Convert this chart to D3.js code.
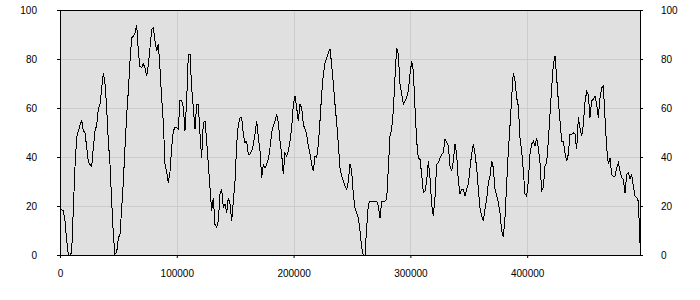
<!DOCTYPE html>
<html>
<head>
<meta charset="utf-8">
<script src="https://cdn.jsdelivr.net/npm/d3@7"></script>
<style>
  body { margin: 0; background: #fff; }
  svg { display: block; font-family: "DejaVu Sans", sans-serif; }
</style>
</head>
<body>
<div id="chart"></div>
<script>
// samples are evenly spaced along x
const xStep = 1427;
const xMax = 496600;
const values = [
  18.6, 18.6, 18, 14, 6, 0, 0, 1, 19, 36, 48, 50.6, 53, 55, 50.6, 50, 44, 38, 37, 36,
  44, 50.6, 53, 59.5, 61.5, 68, 74.4, 70, 60, 46.5, 37, 22, 8.4, 0.3, 1, 7, 8.4, 19, 30, 44,
  57, 67, 79, 88.7, 89.4, 90.7, 94, 83, 77, 76.5, 78, 76.5, 73, 77.8, 84.6, 92, 92.8, 87.3, 83.3, 86,
  76, 64, 54, 37, 34, 29.5, 34, 44, 50.6, 52.2, 52, 51.3,
  63, 63.1, 60.1, 50.6, 62.9, 81.9, 81.9, 68.3, 60, 51.3, 61.5, 61.5, 49.3, 39.7, 54, 54.7, 46.5, 37, 27.5, 18,
  23.4, 12.5, 11.2, 13.9, 24.8, 26.8, 19.3, 20.7, 17.3, 23.4, 20.7, 13.9, 22, 30.2, 45.2, 53.3, 56, 56.3, 49.3, 45.9,
  46.5, 41.1, 41.1, 42.4, 45.2, 49.3, 54.7, 47.9, 42.4, 31.6, 37, 35.6, 37, 39, 43.8, 49.9, 52.7, 54.7, 57.4, 54,
  46.5, 41.1, 32.9, 41.8, 40.4, 42.4, 46.5, 52, 61.5,
  64.9, 60.1, 54.7, 61.5, 60.1, 53.3, 51.3, 49.3, 44.5, 41.1, 37, 34.3, 40.4, 39.7, 45.2, 54.7, 65.6, 73.7, 78.5, 80.5,
  82.6, 83.9, 77.8, 69.7, 61.5, 54, 45.2, 35.6, 32.2, 30.2, 28.2, 26.8, 30.2, 37, 34.3, 24.8, 19.3, 17.3, 15.2, 9.8,
  3, 0, 0, 11.2, 20.7, 22, 22, 22, 22, 22, 20, 15.2, 22, 22, 22, 22.7, 35.6, 48.6, 51.3, 58.8,
  72.4, 84.6, 81.9, 69.7, 65.6, 61.5, 62.9, 64.2, 66.9, 73.7,
  79, 75.1, 60.1, 46.5, 39.7, 39, 32.9, 25.4, 26.1, 30.2, 38.4, 31.6, 20.7, 15.9, 23.4, 37, 37.7, 39.7, 41.1, 41.8,
  47.2, 45.9, 44.5, 36.3, 34.3, 38.4, 45.2, 41.1, 30.2, 24.8, 26.8, 26.8, 24.1, 26.8, 28.8, 35.6, 41.1, 45.2, 41.1, 35.6,
  26.8, 19.3, 15.9, 13.9, 18.6, 22.7, 29.5, 32.2, 38.4, 35.6, 26.8, 24.1, 21.4, 17.3, 9.8, 7.3, 15.2, 28.8, 42.4, 52.7,
  64.2, 74.4, 71, 64.2, 60.8, 47.9, 42.4, 34.3, 24.8,
  24.1, 30.2, 41.1, 45.2, 46.5, 44.5, 47.9, 43.8, 37.7, 26.1, 27.5, 36.3, 37.7, 46.5, 57.4, 68.3, 77.8, 81.2, 72.4, 62.9,
  54.7, 46.5, 46.5, 41.8, 38.4, 41.1, 49.3, 49.3, 49.9, 49.3, 43.1, 56.1, 52, 48.6, 53.3, 62.2, 66.9, 65.6, 56.1, 62.9,
  63.5, 64.9, 61.5, 56.1, 64.2, 68.3, 69, 56.1, 43.8, 37, 39.7, 32.9, 32.2, 32.2, 35.6, 37.7, 34.3, 31.6, 30.9, 25.4,
  32.9, 33.6, 30.9, 32.9, 28.2, 24.1, 23.4, 22, 5
];
const xTicks = [0, 100000, 200000, 300000, 400000];
const yTicks = [0, 20, 40, 60, 80, 100];

const W = 700, H = 300;
const margin = { top: 10, right: 60, bottom: 45, left: 60 };
const width = W - margin.left - margin.right;
const height = H - margin.top - margin.bottom;

const svg = d3.select('#chart').append('svg')
  .attr('width', W)
  .attr('height', H)
  .append('g')
  .attr('transform', `translate(${margin.left},${margin.top})`);

const x = d3.scaleLinear().domain([0, xMax]).range([0, width]);
const y = d3.scaleLinear().domain([0, 100]).range([height, 0]);

svg.append('rect')
  .attr('width', width)
  .attr('height', height)
  .attr('fill', '#e0e0e0');

// grid
svg.append('g')
  .selectAll('line')
  .data(yTicks.slice(1, -1))
  .join('line')
  .attr('x1', 0).attr('x2', width)
  .attr('y1', d => Math.round(y(d)) + 0.5)
  .attr('y2', d => Math.round(y(d)) + 0.5)
  .attr('stroke', '#cccccc');

svg.append('g')
  .selectAll('line')
  .data(xTicks.slice(1))
  .join('line')
  .attr('y1', 0).attr('y2', height)
  .attr('x1', d => Math.round(x(d)) + 0.5)
  .attr('x2', d => Math.round(x(d)) + 0.5)
  .attr('stroke', '#cccccc');

svg.append('path')
  .datum(values)
  .attr('d', d3.line().x((d, i) => x(i * xStep)).y(d => y(d)))
  .attr('fill', 'none')
  .attr('stroke', '#000')
  .attr('stroke-width', 1)
  .attr('shape-rendering', 'crispEdges');

svg.append('rect')
  .attr('x', 0.5).attr('y', 0.5)
  .attr('width', width).attr('height', height)
  .attr('fill', 'none')
  .attr('stroke', '#000');

const styleAxis = g => {
  g.select('.domain').remove();
  g.selectAll('text').attr('fill', '#000').style('font-size', '10px');
  g.selectAll('line').attr('stroke', '#000');
};

svg.append('g')
  .call(d3.axisLeft(y).tickValues(yTicks).tickSize(3).tickPadding(20))
  .call(styleAxis);

svg.append('g')
  .attr('transform', `translate(${width},0)`)
  .call(d3.axisRight(y).tickValues(yTicks).tickSize(3).tickPadding(18))
  .call(styleAxis);

svg.append('g')
  .attr('transform', `translate(0,${height})`)
  .call(d3.axisBottom(x).tickValues(xTicks).tickFormat(d3.format('d')).tickSize(3).tickPadding(12))
  .call(styleAxis);
</script>
</body>
</html>
